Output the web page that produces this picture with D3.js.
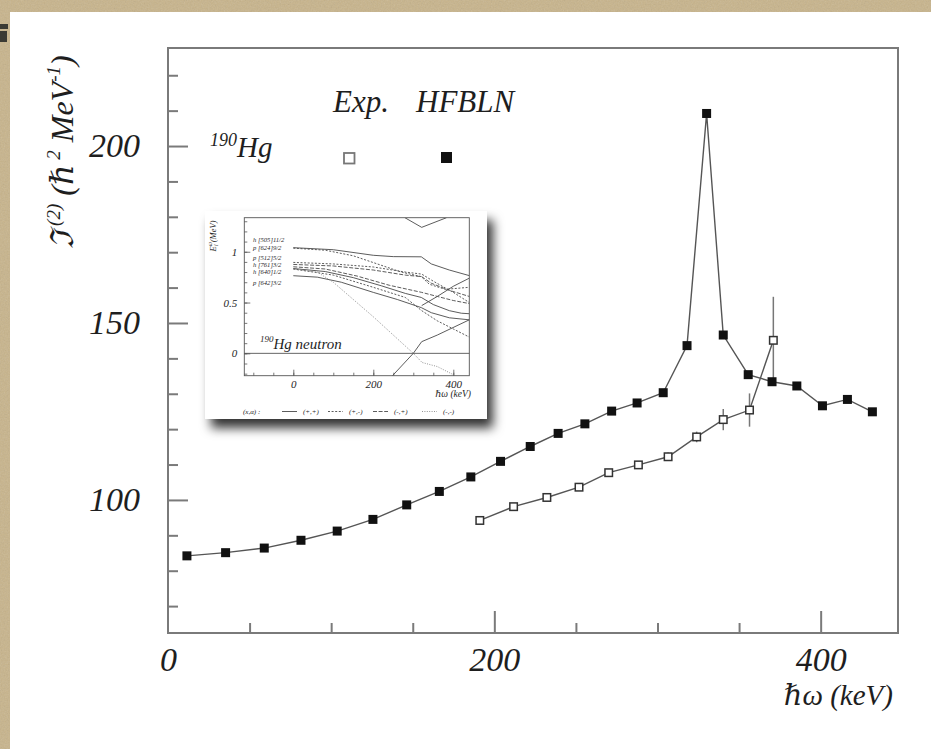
<!DOCTYPE html>
<html>
<head>
<meta charset="utf-8">
<script src="https://cdn.jsdelivr.net/npm/d3@7"></script>
<style>
  html, body { margin: 0; padding: 0; background: #c8b48b; }
  svg { display: block; }
  text { font-family: "Liberation Serif", "DejaVu Serif", serif; font-style: italic; fill: #1e1e1e; }
</style>
</head>
<body>
<svg id="chart" width="931" height="749"></svg>
<script>
// ---------------- data (main plot) ----------------
const hfbX = [11.6, 35.3, 59.0, 81.5, 103.7, 125.6, 146.3, 166.3, 185.6, 203.8, 222.0, 239.1, 255.5,
              271.9, 287.5, 303.5, 318.1, 330.1, 340.3, 355.6, 370.2, 385.4, 401.1, 416.4, 431.7];
const hfbY = [84.2, 85.1, 86.4, 88.6, 91.2, 94.5, 98.6, 102.4, 106.5, 110.9, 115.1, 118.8, 121.5,
              125.1, 127.4, 130.3, 143.6, 209.2, 146.6, 135.4, 133.4, 132.2, 126.6, 128.4, 124.9];
const expX = [191.1, 211.8, 232.2, 251.9, 270.1, 288.3, 306.5, 324.0, 340.3, 356.4, 371.0];
const expY = [94.2, 98.1, 100.7, 103.6, 107.7, 109.9, 112.2, 117.8, 122.7, 125.4, 145.1];
const expErr = [0.5, 0.5, 0.5, 0.5, 0.6, 0.8, 1.2, 1.5, 3.0, 4.7, 12.3];

const xMajorTicks = [0, 200, 400];
const xMinorTicks = [50, 100, 150, 250, 300, 350];
const yMajorTicks = [100, 150, 200];
const yMinorTicks = [70, 80, 90, 110, 120, 130, 140, 160, 170, 180, 190, 210, 220];

// ---------------- data (inset) ----------------
const insetLevelNames = ["h [505]11/2", "p [624]9/2", "p [512]5/2", "h [761]3/2", "h [640]1/2", "p [642]3/2"];
const insetLevelLabelE = [1.122, 1.039, 0.945, 0.875, 0.805, 0.699];
const insetYTicksMajor = [0, 0.5, 1];
const insetXTicksMajor = [0, 200, 400];
const curvePP1 = [[0,1.04],[100,1.02],[200,0.965],[250,0.952],[320,0.95],[345,0.88],[390,0.82],[440,0.765]];
const curvePP2 = [[0,0.835],[80,0.805],[150,0.745],[220,0.665],[280,0.59],[320,0.55],[350,0.48],[390,0.42],[420,0.395],[440,0.39]];
const curvePP3 = [[0,0.764],[60,0.75],[120,0.70],[200,0.60],[260,0.53],[320,0.45],[345,0.40],[390,0.35],[440,0.33]];
const curvePP4 = [[248,-0.22],[300,0],[321,0.115],[360,0.18],[440,0.33]];
const curvePP5 = [[321,0.47],[360,0.56],[400,0.66],[440,0.74]];
const curvePP6 = [[279,1.335],[321,1.24],[383,1.335]];
const curvePM1 = [[0,1.035],[80,1.015],[150,0.96],[210,0.88],[270,0.80],[320,0.755],[340,0.68],[380,0.63],[440,0.65]];
const curvePM2 = [[0,0.895],[100,0.88],[200,0.85],[280,0.80],[321,0.78],[350,0.71],[400,0.60],[440,0.50]];
const curvePM3 = [[0,0.83],[100,0.77],[200,0.65],[280,0.55],[321,0.42],[360,0.32],[400,0.24],[440,0.16]];
const curveMP1 = [[0,0.875],[100,0.86],[200,0.82],[280,0.77],[321,0.755],[345,0.69],[390,0.62],[440,0.56]];
const curveMP2 = [[0,0.852],[80,0.83],[160,0.76],[240,0.67],[321,0.60],[360,0.56],[400,0.52],[440,0.49]];
const curveMM1 = [[0,0.83],[60,0.80],[100,0.70],[200,0.36],[300,0.0],[322,-0.09],[360,-0.13],[400,-0.21]];
const insetLegend = [["(+,+)", "solid"], ["(+,-)", "pm"], ["(-,+)", "mp"], ["(-,-)", "mm"]];

// ---------------- drawing ----------------
const svg = d3.select("#chart");
const defs = svg.append("defs");
const noise = defs.append("filter").attr("id", "paper").attr("x", 0).attr("y", 0).attr("width", 1).attr("height", 1);
noise.append("feTurbulence").attr("type", "fractalNoise").attr("baseFrequency", 0.7).attr("numOctaves", 2).attr("seed", 4);
noise.append("feColorMatrix").attr("type", "saturate").attr("values", 0);
const sh = defs.append("filter").attr("id", "shadow").attr("x", -0.1).attr("y", -0.1).attr("width", 1.3).attr("height", 1.35);
sh.append("feDropShadow").attr("dx", 6).attr("dy", 9).attr("stdDeviation", 5.5).attr("flood-color", "#000").attr("flood-opacity", 0.8);

// parchment background + white page
svg.append("rect").attr("width", 931).attr("height", 749).attr("fill", "#c8b48b");
svg.append("rect").attr("width", 931).attr("height", 749).attr("filter", "url(#paper)").attr("opacity", 0.22);
svg.append("rect").attr("x", 0).attr("y", 24).attr("width", 8).attr("height", 5).attr("fill", "#3a3a34");
svg.append("rect").attr("x", 0).attr("y", 31).attr("width", 7).attr("height", 11).attr("fill", "#3a3a34");
svg.append("rect").attr("x", 10).attr("y", 12).attr("width", 921).attr("height", 737).attr("fill", "#fff");

// scales
const x = d3.scaleLinear().domain([0, 447.4]).range([168, 898]);
const y = d3.scaleLinear().domain([62.4, 227.7]).range([633, 48]);

const axisColor = "#7a7a7a";
// frame
svg.append("rect").attr("x", x(0)).attr("y", y(227.7)).attr("width", x(447.4) - x(0)).attr("height", y(62.4) - y(227.7))
  .attr("fill", "none").attr("stroke", axisColor).attr("stroke-width", 2);

function styleAxis(g) {
  g.select(".domain").remove();
  g.selectAll(".tick line").attr("stroke", axisColor).attr("stroke-width", 2);
}
// x axis
svg.append("g").attr("transform", `translate(0,${y(62.4)})`)
  .call(d3.axisBottom(x).tickValues(xMinorTicks).tickSizeInner(-10).tickSizeOuter(0).tickFormat(""))
  .call(styleAxis);
const gxM = svg.append("g").attr("transform", `translate(0,${y(62.4)})`)
  .call(d3.axisBottom(x).tickValues(xMajorTicks).tickSizeInner(-22).tickSizeOuter(0).tickPadding(14).tickFormat(d3.format("d")))
  .call(styleAxis);
gxM.selectAll(".tick line").filter(d => d === 0).remove();
gxM.selectAll("text").attr("font-size", 34).attr("font-family", "Liberation Serif, serif").attr("font-style", "italic").attr("fill", "#222");

// y axis
svg.append("g").attr("transform", `translate(${x(0)},0)`)
  .call(d3.axisLeft(y).tickValues(yMinorTicks).tickSizeInner(-10).tickSizeOuter(0).tickFormat(""))
  .call(styleAxis);
const gyM = svg.append("g").attr("transform", `translate(${x(0)},0)`)
  .call(d3.axisLeft(y).tickValues(yMajorTicks).tickSizeInner(-20).tickSizeOuter(0).tickPadding(28).tickFormat(d3.format("d")))
  .call(styleAxis);
gyM.selectAll("text").attr("font-size", 34).attr("font-family", "Liberation Serif, serif").attr("font-style", "italic").attr("fill", "#222");

// axis titles
const xt = svg.append("text").attr("x", 893).attr("y", 705).attr("text-anchor", "end").attr("font-size", 29);
xt.text("ℏω (keV)");
const yt = svg.append("text").attr("transform", "translate(73,152) rotate(-90)").attr("text-anchor", "middle").attr("font-size", 32);
yt.append("tspan").text("ℑ");
yt.append("tspan").attr("font-size", 19).attr("dy", -13).text(" (2)");
yt.append("tspan").attr("dy", 13).text(" (ℏ");
yt.append("tspan").attr("font-size", 19).attr("dy", -13).text(" 2");
yt.append("tspan").attr("dy", 13).text(" MeV");
yt.append("tspan").attr("font-size", 19).attr("dy", -13).text("-1");
yt.append("tspan").attr("dy", 13).text(")");

// lines
const line = d3.line().x(d => x(d[0])).y(d => y(d[1]));
const hfb = hfbX.map((v, i) => [v, hfbY[i]]);
const exp = expX.map((v, i) => [v, expY[i], expErr[i]]);
svg.append("path").attr("d", line(hfb)).attr("fill", "none").attr("stroke", "#555").attr("stroke-width", 1.4);
svg.append("path").attr("d", line(exp)).attr("fill", "none").attr("stroke", "#555").attr("stroke-width", 1.4);
// error bars
svg.selectAll(".err").data(exp).enter().append("line")
  .attr("x1", d => x(d[0])).attr("x2", d => x(d[0]))
  .attr("y1", d => y(d[1] - d[2])).attr("y2", d => y(d[1] + d[2]))
  .attr("stroke", "#777").attr("stroke-width", 1.5);
// markers
const ms = 9;
svg.selectAll(".hfb").data(hfb).enter().append("rect")
  .attr("x", d => x(d[0]) - ms / 2).attr("y", d => y(d[1]) - ms / 2).attr("width", ms).attr("height", ms)
  .attr("fill", "#111");
svg.selectAll(".exp").data(exp).enter().append("rect")
  .attr("x", d => x(d[0]) - ms / 2 + 0.75).attr("y", d => y(d[1]) - ms / 2 + 0.75).attr("width", ms - 1.5).attr("height", ms - 1.5)
  .attr("fill", "#fff").attr("stroke", "#333").attr("stroke-width", 1.5);

// legend
svg.append("text").attr("x", 333).attr("y", 112).attr("font-size", 31).text("Exp.");
svg.append("text").attr("x", 416).attr("y", 112).attr("font-size", 31).text("HFBLN");
const hg = svg.append("text").attr("x", 210).attr("y", 157).attr("font-size", 29);
hg.append("tspan").attr("font-size", 18).attr("dy", -11).text("190");
hg.append("tspan").attr("dy", 11).text("Hg");
svg.append("rect").attr("x", 344).attr("y", 153).attr("width", 10.5).attr("height", 10.5)
  .attr("fill", "#fff").attr("stroke", "#777").attr("stroke-width", 1.8);
svg.append("rect").attr("x", 441).attr("y", 152).attr("width", 11).attr("height", 11).attr("fill", "#111");

// ---------------- inset ----------------
const inset = svg.append("g");
inset.append("rect").attr("x", 205).attr("y", 211).attr("width", 282).attr("height", 208)
  .attr("fill", "#fff").attr("filter", "url(#shadow)");
const ix = d3.scaleLinear().domain([-122.5, 440]).range([244.3, 469.3]);
const iy = d3.scaleLinear().domain([-0.22, 1.335]).range([375.7, 217.7]);
const iaxis = "#555";
inset.append("rect").attr("x", ix(-122.5)).attr("y", iy(1.335)).attr("width", ix(440) - ix(-122.5)).attr("height", iy(-0.22) - iy(1.335))
  .attr("fill", "none").attr("stroke", iaxis).attr("stroke-width", 0.9);
function iStyle(g) { g.select(".domain").remove(); g.selectAll(".tick line").attr("stroke", iaxis).attr("stroke-width", 0.8); }
inset.append("g").attr("transform", `translate(0,${iy(-0.22)})`)
  .call(d3.axisBottom(ix).tickValues(d3.range(-100, 401, 50)).tickSizeInner(-3).tickSizeOuter(0).tickFormat("")).call(iStyle);
const ixg = inset.append("g").attr("transform", `translate(0,${iy(-0.22)})`)
  .call(d3.axisBottom(ix).tickValues(insetXTicksMajor).tickSizeInner(-6).tickSizeOuter(0).tickPadding(5).tickFormat(d3.format("d"))).call(iStyle);
ixg.selectAll("text").attr("font-size", 11).attr("font-family", "Liberation Serif, serif").attr("font-style", "italic").attr("fill", "#222");
inset.append("g").attr("transform", `translate(${ix(-122.5)},0)`)
  .call(d3.axisLeft(iy).tickValues(d3.range(-2, 14).map(v => v / 10)).tickSizeInner(-3).tickSizeOuter(0).tickFormat("")).call(iStyle);
const iyg = inset.append("g").attr("transform", `translate(${ix(-122.5)},0)`)
  .call(d3.axisLeft(iy).tickValues(insetYTicksMajor).tickSizeInner(-6).tickSizeOuter(0).tickPadding(7).tickFormat(d => d === 0.5 ? "0.5" : d3.format("d")(d))).call(iStyle);
iyg.selectAll("text").attr("font-size", 11).attr("font-family", "Liberation Serif, serif").attr("font-style", "italic").attr("fill", "#222");

inset.append("text").attr("x", 471).attr("y", 397).attr("text-anchor", "end").attr("font-size", 9.5).text("ℏω (keV)");
const iyt = inset.append("text").attr("transform", "translate(216,236) rotate(-90)").attr("text-anchor", "middle").attr("font-size", 8.5);
iyt.append("tspan").text("E");
iyt.append("tspan").attr("font-size", 6).attr("dy", -4).text("ω");
iyt.append("tspan").attr("font-size", 6).attr("dx", -4).attr("dy", 6).text("i");
iyt.append("tspan").attr("dy", -2).text(" (MeV)");

// zero line
inset.append("line").attr("x1", ix(-122.5)).attr("x2", ix(440)).attr("y1", iy(0)).attr("y2", iy(0)).attr("stroke", "#555").attr("stroke-width", 0.9);

const iline = d3.line().x(d => ix(d[0])).y(d => iy(d[1]));
const styles = {
  solid: { dash: null, color: "#4a4a4a", w: 0.9 },
  pm: { dash: "2,1.6", color: "#4a4a4a", w: 0.9 },
  mp: { dash: "4,1.6", color: "#4a4a4a", w: 0.9 },
  mm: { dash: "1,1.4", color: "#888", w: 0.9 }
};
const curves = [
  [curvePP1, "solid"], [curvePP2, "solid"], [curvePP3, "solid"], [curvePP4, "solid"], [curvePP5, "solid"], [curvePP6, "solid"],
  [curvePM1, "pm"], [curvePM2, "pm"], [curvePM3, "pm"],
  [curveMP1, "mp"], [curveMP2, "mp"],
  [curveMM1, "mm"]
];
const clip = defs.append("clipPath").attr("id", "iclip");
clip.append("rect").attr("x", ix(-122.5)).attr("y", iy(1.335)).attr("width", ix(440) - ix(-122.5)).attr("height", iy(-0.22) - iy(1.335));
const cg = inset.append("g").attr("clip-path", "url(#iclip)");
curves.forEach(([c, t]) => {
  cg.append("path").attr("d", iline(c)).attr("fill", "none").attr("stroke", styles[t].color)
    .attr("stroke-width", styles[t].w).attr("stroke-dasharray", styles[t].dash);
});
// level labels
insetLevelNames.forEach((n, i) => {
  inset.append("text").attr("x", 253).attr("y", iy(insetLevelLabelE[i]) + 2.3).attr("font-size", 6.6).text(n);
  inset.append("line").attr("x1", ix(-122.5)).attr("x2", ix(-122.5) + 3).attr("y1", iy(insetLevelLabelE[i])).attr("y2", iy(insetLevelLabelE[i]));
});
// 190Hg neutron
const hn = inset.append("text").attr("x", 260).attr("y", 349).attr("font-size", 15);
hn.append("tspan").attr("font-size", 9).attr("dy", -7).text("190");
hn.append("tspan").attr("dy", 7).text("Hg neutron");
// inset legend
inset.append("text").attr("x", 243).attr("y", 414).attr("font-size", 7).text("(x,α) :");
const legX = [282, 328, 373, 422];
insetLegend.forEach(([lab, t], i) => {
  const s = styles[t];
  inset.append("line").attr("x1", legX[i]).attr("x2", legX[i] + 15).attr("y1", 411.5).attr("y2", 411.5)
    .attr("stroke", s.color).attr("stroke-width", s.w).attr("stroke-dasharray", s.dash);
  inset.append("text").attr("x", legX[i] + 21).attr("y", 414).attr("font-size", 7).text(lab);
});
</script>
</body>
</html>
